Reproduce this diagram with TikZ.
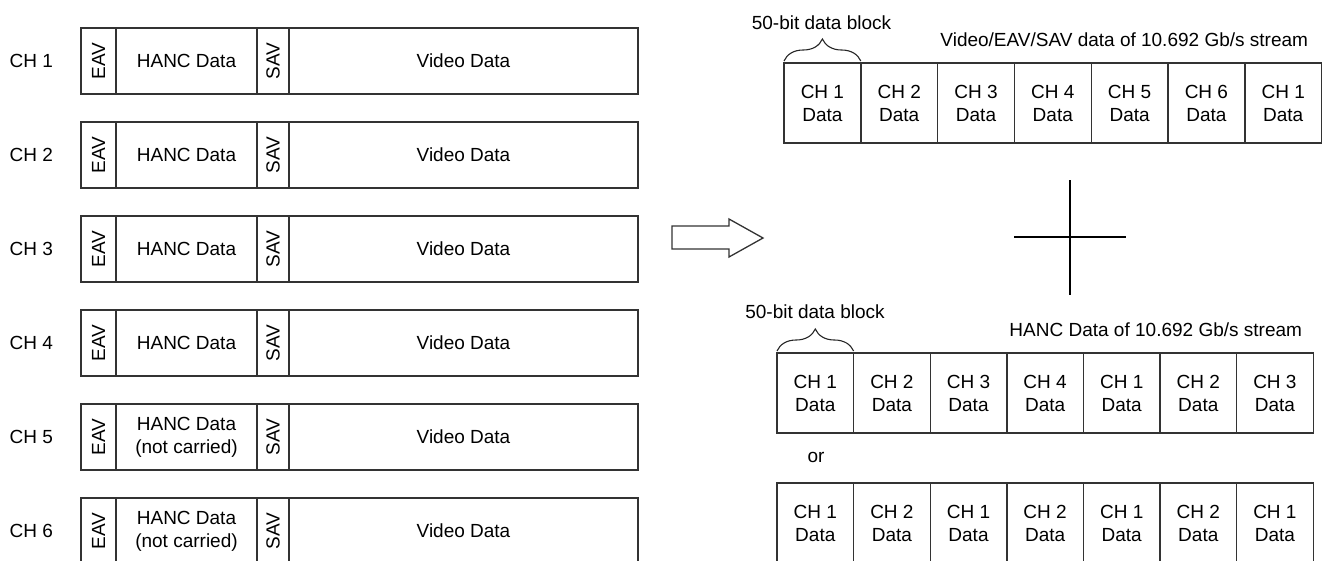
\documentclass[tikz,border=0pt]{standalone}
\usepackage{fontspec}
\setmainfont{Liberation Sans}
\usetikzlibrary{positioning,decorations.pathreplacing}

\begin{document}
\begin{tikzpicture}[x=1pt,y=-1pt,
        every node/.style={font=\fontsize{19}{23}\selectfont, inner sep=0pt, outer sep=0pt},
        field/.style={draw=black!80, line width=1.4pt, minimum height=66pt, anchor=north west},
        cell/.style={draw=black!80, line width=1.4pt, minimum height=80pt, anchor=north west, align=center},
        bracket/.style={decorate, decoration={brace, amplitude=22pt}, line width=1.1pt, black!85}
    ]

            \useasboundingbox (0,0) rectangle (1325,560);
            \clip (0,0) rectangle (1325,560);

            % the six input channels
            \foreach \k/\txt in {1/{HANC Data},2/{HANC Data},3/{HANC Data},4/{HANC Data},5/{HANC Data\\(not carried)},6/{HANC Data\\(not carried)}} {
                \node[field, minimum width=35pt] (eav\k) at (81,{28+94*(\k-1)}) {};
                \node[field, minimum width=141pt, right=0pt of eav\k, align=center] (hanc\k) {\txt};
                \node[field, minimum width=32pt, right=0pt of hanc\k] (sav\k) {};
                \node[field, minimum width=349pt, right=0pt of sav\k] (vid\k) {Video Data};
                \node[rotate=90] at (eav\k) {EAV};
                \node[rotate=90] at (sav\k) {SAV};
                \node[left=28pt of eav\k] (lab\k) {CH \k};
            }

            % block arrow
            \draw[line width=1.3pt, black!80] (672,226) -- (729,226) -- (729,219) -- (763,238)
                -- (729,257) -- (729,249) -- (672,249) -- cycle;

            % Video/EAV/SAV stream
            \foreach \c [count=\i] in {1,2,3,4,5,6,1}
                \node[cell, minimum width=76.8pt] (v\i) at ({784+76.8*(\i-1)},63) {CH \c\\Data};
            \node[anchor=east] (vtitle) at (1308,40) {Video/EAV/SAV data of 10.692 Gb/s stream};
            \node (vblk) at (821.5,23) {50-bit data block};
            \draw[bracket] ([yshift=2pt]v1.north west) -- ([yshift=2pt]v1.north east);

            % plus sign
            \draw[line width=1.3pt] (1070,180) -- (1070,295);
            \draw[line width=1.3pt] (1014,237) -- (1126,237);

            % HANC stream
            \foreach \c [count=\i] in {1,2,3,4,1,2,3}
                \node[cell, minimum width=76.6pt] (h\i) at ({777+76.6*(\i-1)},353) {CH \c\\Data};
            \node[anchor=east] (htitle) at (1302,330) {HANC Data of 10.692 Gb/s stream};
            \node (hblk) at (815,312) {50-bit data block};
            \draw[bracket] ([yshift=2pt]h1.north west) -- ([yshift=2pt]h1.north east);

            \node (or) at (816,457) {or};

            \foreach \c [count=\i] in {1,2,1,2,1,2,1}
                \node[cell, minimum width=76.6pt] (a\i) at ({777+76.6*(\i-1)},483) {CH \c\\Data};

\end{tikzpicture}
\end{document}
